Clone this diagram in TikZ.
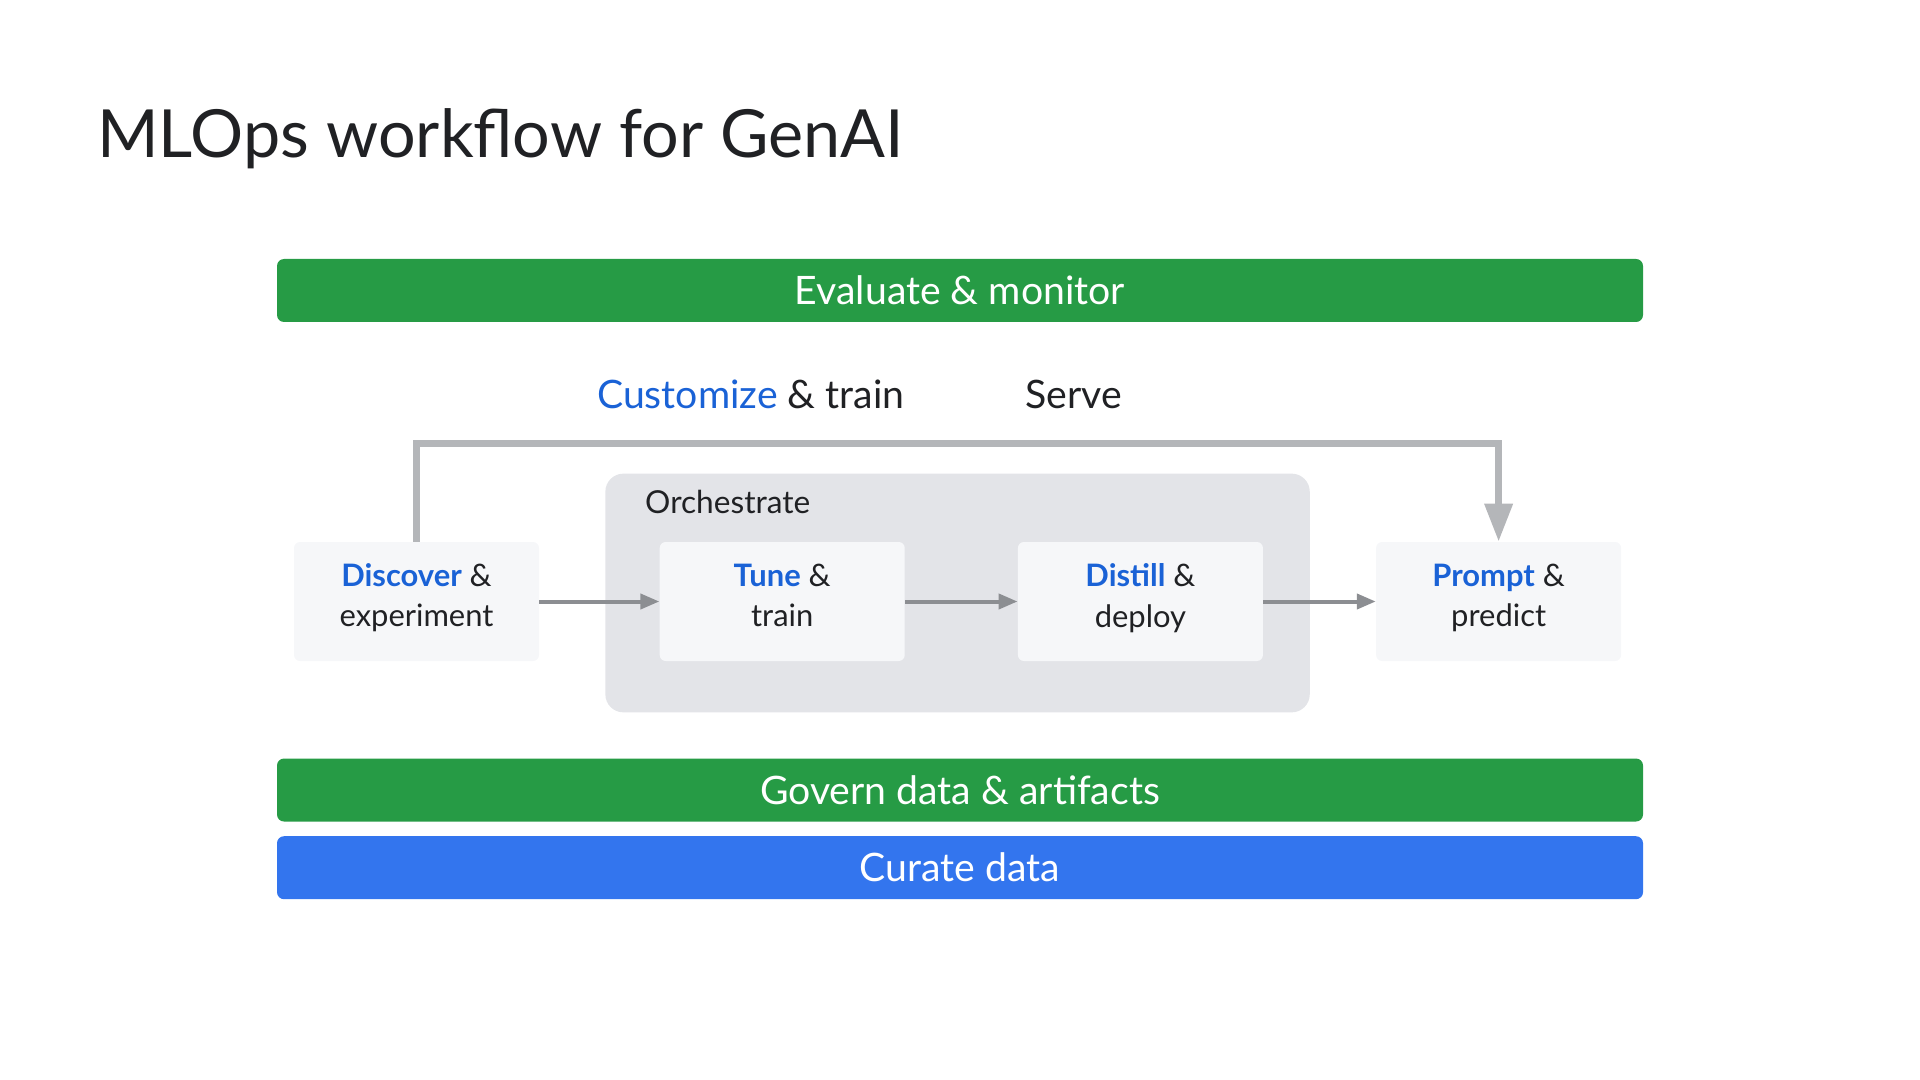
\documentclass[tikz,border=0pt]{standalone}
\usepackage{fontspec}
\setmainfont{Lato}
\usetikzlibrary{arrows.meta, positioning, fit, calc, backgrounds}

\definecolor{gGreen}{RGB}{38,155,69}
\definecolor{gBlue}{RGB}{51,117,238}
\definecolor{txtBlue}{RGB}{26,98,214}
\definecolor{txtDark}{RGB}{32,33,36}
\definecolor{orchGray}{RGB}{227,228,232}
\definecolor{boxFill}{RGB}{246,247,249}
\definecolor{loopGray}{RGB}{180,182,185}
\definecolor{flowGray}{RGB}{140,142,146}

\newcommand{\stagekey}[1]{\textcolor{txtBlue}{\bfseries #1}}

\begin{document}
\begin{tikzpicture}[
  node distance=2.25cm,
  text=txtDark,
  bar/.style={
    rectangle, rounded corners=0.14cm,
    minimum width=27.32cm, minimum height=1.26cm,
    text=white, font=\fontsize{22.3}{26}\selectfont, inner sep=0
  },
  stage/.style={
    rectangle, rounded corners=0.12cm, fill=boxFill,
    minimum width=4.9cm, minimum height=2.38cm,
    align=center, font=\fontsize{17.6}{22.8}\selectfont, inner sep=0,
    execute at begin node={\rule{0pt}{20.2pt}}, execute at end node=\strut
  },
  orchbox/.style={rectangle, rounded corners=0.36cm, fill=orchGray, inner sep=0},
  heading/.style={anchor=base west, font=\fontsize{22.3}{26}\selectfont},
  flow/.style={draw=flowGray, line width=0.08cm, -{Triangle[length=0.38cm, width=0.3cm]}},
  loop/.style={draw=loopGray, line width=0.14cm, -{Triangle[length=0.76cm, width=0.54cm]}}
]
\useasboundingbox (0,0) rectangle (38.4,-21.6);

% Title
\node[anchor=base west, font=\fontsize{37.8}{42}\selectfont] (title) at (1.82,-3.16) {MLOps workflow for GenAI};

% Bars
\node[bar, fill=gGreen] (evaluate) at (19.2,-5.81) {Evaluate \& monitor};
\node[bar, fill=gGreen] (govern) at (19.2,-15.8) {Govern data \& artifacts};
\node[bar, fill=gBlue, below=0.28cm of govern] (curate) {Curate data};

% Headings
\node[heading] (customize) at (11.82,-8.16) {\textcolor{txtBlue}{Customize} \& train};
\node[heading] (serve) at (20.38,-8.16) {Serve};

% Stages
\node[stage] (discover) at (8.33,-12.03) {\stagekey{Discover} \&\\experiment};
\node[stage, right=2.4cm of discover] (tune) {\stagekey{Tune} \&\\train};
\node[stage, right=of tune] (distill) {\stagekey{Distill} \&\\deploy};
\node[stage, right=of distill] (prompt) {\stagekey{Prompt} \&\\predict};

% Orchestrate
\begin{scope}[on background layer]
\node[orchbox, fit={($(tune.north west)+(-1.08,1.36)$) ($(distill.south east)+(0.93,-1.02)$)}] (orch) {};
\end{scope}
\node[anchor=base west, font=\fontsize{18}{22}\selectfont] (orchlabel) at ($(orch.north west)+(0.68,-0.8)$) {Orchestrate};

% Edges
\draw[flow] (discover) -- (tune);
\draw[flow] (tune) -- (distill);
\draw[flow] (distill) -- (prompt);

\coordinate (looptop) at (0,-8.86);
\draw[loop] (discover.north) -- (discover.north |- looptop) -| (prompt.north);

\end{tikzpicture}
\end{document}
